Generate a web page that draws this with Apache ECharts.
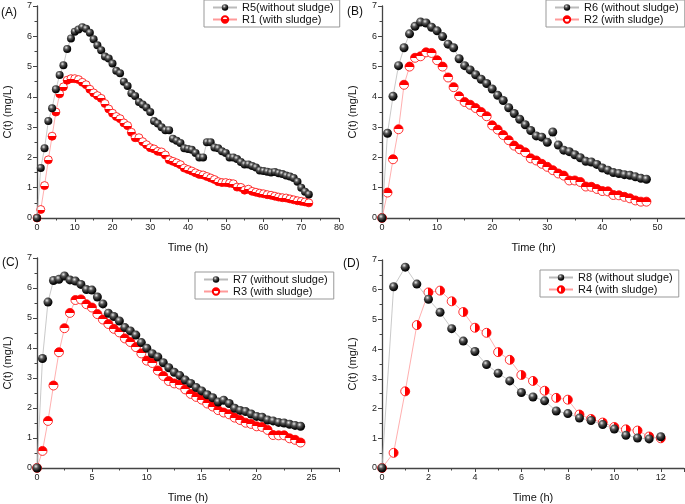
<!DOCTYPE html>
<html><head><meta charset="utf-8">
<script src="https://cdn.jsdelivr.net/npm/echarts@6/dist/echarts.min.js"></script>
<style>html,body{margin:0;padding:0;background:#fff}#c{width:685px;height:504px}</style>
</head><body><div id="c"></div>
<script>
// Panel A
const timeA = [0,1,2,3,4,5,6,7,8,9,10,11,12,13,14,15,16,17,18,19,20,21,22,23,24,25,26,27,28,29,30,31,32,33,34,35,36,37,38,39,40,41,42,43,44,45,46,47,48,49,50,51,52,53,54,55,56,57,58,59,60,61,62,63,64,65,66,67,68,69,70,71,72];
const r5 = [0,1.65,2.3,3.2,3.62,4.25,4.72,5.04,5.58,5.93,6.15,6.22,6.3,6.25,6.12,5.9,5.7,5.54,5.33,5.27,5.1,4.86,4.78,4.5,4.36,4.12,4.03,3.83,3.75,3.65,3.5,3.2,3.12,3.0,2.9,2.9,2.62,2.55,2.48,2.3,2.28,2.25,2.15,2.0,2.0,2.5,2.5,2.33,2.3,2.2,2.15,2.0,2.0,1.95,1.85,1.77,1.77,1.72,1.67,1.57,1.55,1.53,1.5,1.52,1.48,1.45,1.4,1.37,1.32,1.2,1.0,0.87,0.78];
const r1 = [0,0.28,1.07,1.92,2.7,3.5,4.1,4.33,4.55,4.6,4.6,4.57,4.48,4.4,4.25,4.13,4.04,3.95,3.78,3.6,3.46,3.35,3.28,3.14,3.05,2.83,2.65,2.65,2.52,2.42,2.32,2.28,2.2,2.18,2.08,1.92,1.87,1.82,1.76,1.65,1.6,1.55,1.49,1.44,1.42,1.37,1.32,1.27,1.2,1.17,1.17,1.15,1.13,1.02,1.01,0.92,0.95,0.88,0.85,0.82,0.8,0.77,0.75,0.72,0.69,0.67,0.66,0.63,0.6,0.57,0.55,0.53,0.5];
// Panel B
const timeB = [0,1,2,3,4,5,6,7,8,9,10,11,12,13,14,15,16,17,18,19,20,21,22,23,24,25,26,27,28,29,30,31,32,33,34,35,36,37,38,39,40,41,42,43,44,45,46,47,48];
const r6 = [0,2.8,4.02,5.03,5.62,6.08,6.33,6.47,6.44,6.3,6.18,5.99,5.74,5.62,5.26,5.03,4.89,4.73,4.58,4.44,4.26,4.05,3.88,3.64,3.45,3.26,3.08,2.89,2.71,2.67,2.5,2.84,2.41,2.24,2.19,2.09,1.99,1.87,1.85,1.77,1.65,1.58,1.5,1.47,1.43,1.41,1.36,1.31,1.28];
const r2 = [0,0.84,1.94,2.93,4.4,5.0,5.29,5.34,5.47,5.45,5.21,5.0,4.64,4.32,4.02,3.83,3.74,3.63,3.5,3.36,3.06,2.92,2.74,2.57,2.39,2.27,2.17,1.97,1.9,1.79,1.69,1.58,1.47,1.4,1.24,1.24,1.19,1.04,1.03,0.96,0.89,0.88,0.76,0.75,0.7,0.65,0.58,0.54,0.54];
// Panel C
const timeC = [0,0.5,1,1.5,2,2.5,3,3.5,4,4.5,5,5.5,6,6.5,7,7.5,8,8.5,9,9.5,10,10.5,11,11.5,12,12.5,13,13.5,14,14.5,15,15.5,16,16.5,17,17.5,18,18.5,19,19.5,20,20.5,21,21.5,22,22.5,23,23.5,24];
const r7 = [0,3.65,5.53,6.25,6.29,6.4,6.27,6.23,6.12,5.95,5.93,5.7,5.47,5.16,5.05,4.9,4.68,4.57,4.43,4.18,3.99,3.81,3.7,3.51,3.34,3.19,3.08,2.93,2.82,2.68,2.57,2.44,2.34,2.2,2.26,2.15,1.99,1.92,1.88,1.8,1.72,1.69,1.6,1.57,1.52,1.5,1.46,1.42,1.39];
const r3 = [0,0.57,1.57,2.75,3.86,4.66,5.17,5.6,5.62,5.46,5.35,5.13,4.95,4.8,4.64,4.52,4.32,4.2,4.03,3.82,3.58,3.5,3.25,3.07,2.9,2.82,2.78,2.62,2.47,2.37,2.28,2.15,2.05,1.93,1.85,1.79,1.68,1.6,1.51,1.47,1.39,1.37,1.27,1.1,1.09,1.09,0.99,0.94,0.85];
// Panel D
const timeD = [0,0.5,1,1.5,2,2.5,3,3.5,4,4.5,5,5.5,6,6.5,7,7.5,8,8.5,9,9.5,10,10.5,11,11.5,12];
const r8 = [0,6.1,6.76,6.19,5.68,5.24,4.69,4.27,3.92,3.48,3.19,2.93,2.54,2.39,2.26,1.92,1.83,1.68,1.6,1.46,1.31,1.1,1.01,0.98,1.05];
const r4 = [0,0.51,2.58,4.81,5.91,5.97,5.61,5.25,4.72,4.55,3.9,3.64,3.13,2.93,2.6,2.36,2.3,1.8,1.65,1.53,1.38,1.3,1.26,1.06,1.0];

const panelLabels = ['(A)','(B)','(C)','(D)'];
const xNames = ['Time (h)','Time (hr)','Time (h)','Time (h)'];
const yName = 'C(t) (mg/L)';
const seriesNames = [['R5(without sludge)','R1 (with sludge)'],['R6 (without sludge)','R2 (with sludge)'],['R7 (without sludge)','R3 (with sludge)'],['R8 (without sludge)','R4 (with sludge)']];

const FONT = 'Liberation Sans, Arial, sans-serif';
const sphere = {type:'radial', x:0.38, y:0.32, r:0.7, colorStops:[{offset:0,color:'#e8e8e8'},{offset:0.35,color:'#555'},{offset:0.75,color:'#111'},{offset:1,color:'#000'}]};
function half(dir, redFirst){
  const x2 = dir==='h'?1:0, y2 = dir==='v'?1:0;
  const a = redFirst?'#f00':'#fff', b = redFirst?'#fff':'#f00';
  return {type:'linear', x:0, y:0, x2:x2, y2:y2, colorStops:[{offset:0,color:a},{offset:0.5,color:a},{offset:0.5,color:b},{offset:1,color:b}]};
}
const redFills = [half('v',false), half('v',true), half('v',true), half('h',false)];
const grids = [
  {left:37, top:6, width:302, height:212},
  {left:382, top:6, width:303, height:212},
  {left:37, top:258, width:302, height:211},
  {left:382, top:260, width:302, height:211}
];
const xCfg = [{max:80, interval:10},{max:55, interval:10},{max:27.5, interval:5},{max:13, interval:2}];
const symSizes = [8,9,9,9];
const legendPos = [{left:204, top:0},{left:546, top:0},{left:195, top:272},{left:540, top:270}];
const times = [timeA,timeB,timeC,timeD];
const blacks = [r5,r6,r7,r8];
const reds = [r1,r2,r3,r4];

const xAxis = [], yAxis = [], series = [], legend = [], graphic = [];
for (let i=0;i<4;i++){
  xAxis.push({gridIndex:i, type:'value', min:0, max:xCfg[i].max, interval:xCfg[i].interval,
    name:xNames[i], nameLocation:'middle', nameGap:24,
    nameTextStyle:{fontFamily:FONT, fontSize:11, color:'#111'},
    axisLine:{lineStyle:{color:'#444', width:1.3}},
    axisTick:{show:true, inside:false, length:4, lineStyle:{color:'#444'}},
    minorTick:{show:true, splitNumber:2, length:2.5, lineStyle:{color:'#444'}},
    axisLabel:{fontFamily:FONT, fontSize:9, color:'#222', margin:5, showMaxLabel:Number.isInteger(xCfg[i].max/xCfg[i].interval)},
    splitLine:{show:false}});
  yAxis.push({gridIndex:i, type:'value', min:0, max:7, interval:1,
    name:yName, nameLocation:'middle', nameGap:24,
    nameTextStyle:{fontFamily:FONT, fontSize:11, color:'#111'},
    axisLine:{show:true, lineStyle:{color:'#444', width:1.3}},
    axisTick:{show:true, inside:false, length:4, lineStyle:{color:'#444'}},
    minorTick:{show:true, splitNumber:2, length:2.5, lineStyle:{color:'#444'}},
    axisLabel:{fontFamily:FONT, fontSize:9, color:'#222', margin:5},
    splitLine:{show:false}});
  series.push({name:seriesNames[i][0], type:'line', xAxisIndex:i, yAxisIndex:i,
    data:times[i].map((t,k)=>[t, blacks[i][k]]),
    symbol:'circle', symbolSize:symSizes[i],
    lineStyle:{color:'#bbb', width:0.8},
    itemStyle:{color:sphere, borderWidth:0}, z:3});
  series.push({name:seriesNames[i][1], type:'line', xAxisIndex:i, yAxisIndex:i,
    data:times[i].map((t,k)=>[t, reds[i][k]]),
    symbol:'circle', symbolSize:symSizes[i],
    lineStyle:{color:'#ff9a9a', width:0.8},
    itemStyle:{color:redFills[i], borderColor:'#f00', borderWidth:0.8}, z:2});
  legend.push(Object.assign({orient:'vertical', data:seriesNames[i], borderColor:'#999', borderWidth:1,
    borderRadius:0, padding:[2,6,2,8], itemGap:1, itemWidth:24, itemHeight:8,
    textStyle:{fontFamily:FONT, fontSize:11, color:'#111'}}, legendPos[i]));
}
const labelPos = [{left:1, top:7},{left:347, top:6},{left:2, top:257},{left:343, top:258}];
for (let i=0;i<4;i++){
  graphic.push({type:'text', left:labelPos[i].left, top:labelPos[i].top,
    style:{text:panelLabels[i], font:'12px '+FONT, fill:'#111'}});
}
const chart = echarts.init(document.getElementById('c'), null, {renderer:'canvas'});
chart.setOption({animation:false, backgroundColor:'#fff', grid:grids, xAxis, yAxis, series, legend, graphic});
</script></body></html>
